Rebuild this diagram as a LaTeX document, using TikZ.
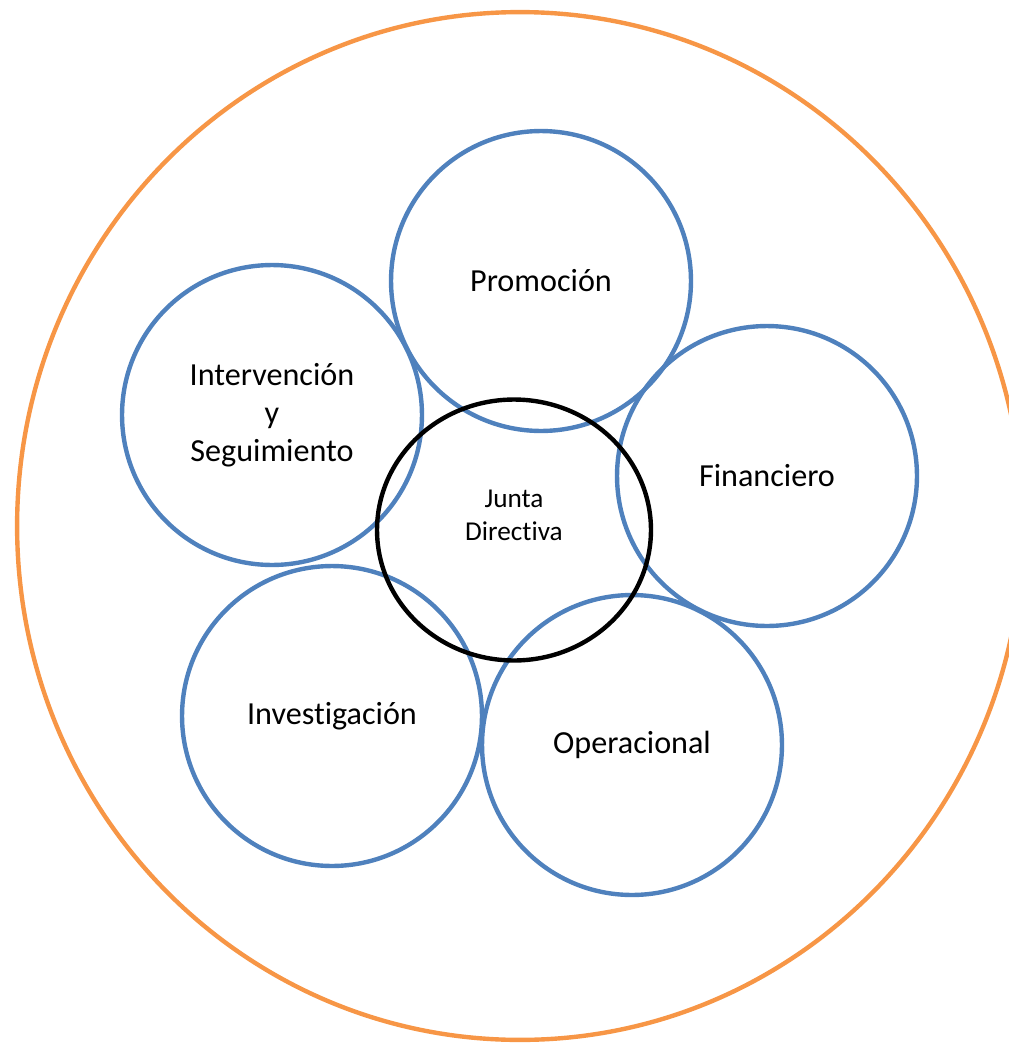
\documentclass[tikz,border=0pt]{standalone}
\usepackage{fontspec}
\setmainfont{Carlito}[Ligatures=NoCommon]
\usetikzlibrary{shapes.geometric}
\definecolor{areablue}{HTML}{4F81BD}
\definecolor{orgorange}{HTML}{F79646}
\tikzstyle{area}=[circle, draw=areablue, line width=2.5pt, minimum size=6cm, inner sep=0pt,
        text centered, align=center, font=\fontsize{18.3}{21.5}\selectfont]
\tikzstyle{board}=[ellipse, draw=black, line width=2.5pt, minimum width=5.48cm, minimum height=5.22cm, inner sep=0pt]
\tikzstyle{org}=[ellipse, draw=orgorange, line width=2.5pt, minimum width=20.12cm, minimum height=20.56cm, inner sep=0pt]

\begin{document}
\begin{tikzpicture}[x=0.02cm,y=-0.02cm]
\useasboundingbox (0,0) rectangle (1008,1045);
\node[org] (outer) at (520,526) {};
\node[area] (promo) at (541,281) {Promoción};
\node[area] (interv) at (272,415) {Intervención\\y\\Seguimiento};
\node[area] (finan) at (767,476) {Financiero};
\node[area] (invest) at (332,716) {Investigación};
\node[area] (oper) at (632,745) {Operacional};
\node[board] (junta) at (514,530) {};
\node[align=center, font=\fontsize{15.5}{18.7}\selectfont] (juntatext) at (514,515) {Junta\\Directiva};
\end{tikzpicture}
\end{document}
